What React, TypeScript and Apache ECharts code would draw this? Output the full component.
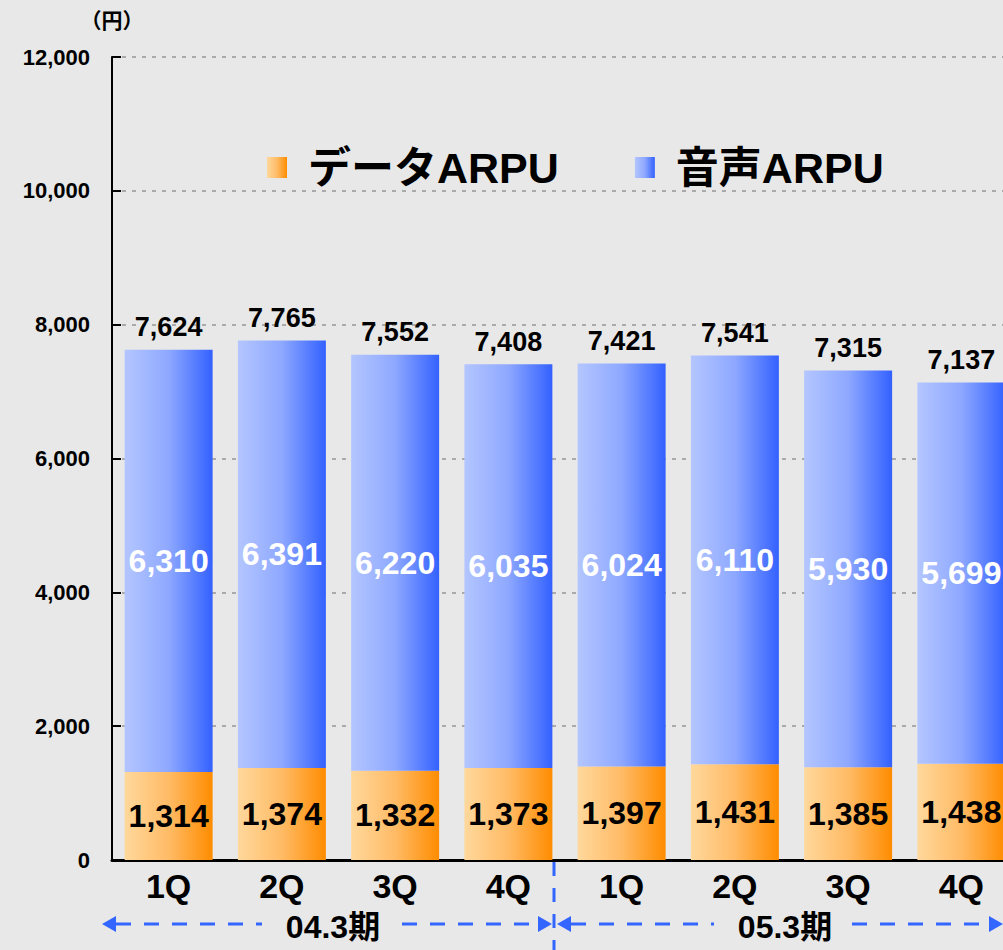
import React, { useEffect, useRef } from "react";
import * as echarts from "echarts";

const categories = ["1Q", "2Q", "3Q", "4Q", "1Q", "2Q", "3Q", "4Q"];
const dataArpu = [1314, 1374, 1332, 1373, 1397, 1431, 1385, 1438];
const voiceArpu = [6310, 6391, 6220, 6035, 6024, 6110, 5930, 5699];
const totals = [7624, 7765, 7552, 7408, 7421, 7541, 7315, 7137];
const periodLabels = ["04.3期", "05.3期"];

const FONT = '"Liberation Sans", "Noto Sans CJK JP", sans-serif';
const fmt = (v: number) => v.toLocaleString("en-US");

const orangeGrad = new echarts.graphic.LinearGradient(0, 0, 1, 0, [
  { offset: 0, color: "#ffd89c" },
  { offset: 0.5, color: "#ffbb66" },
  { offset: 1, color: "#ff8c00" },
]);
const blueGrad = new echarts.graphic.LinearGradient(0, 0, 1, 0, [
  { offset: 0, color: "#b4c6ff" },
  { offset: 0.5, color: "#8ea8ff" },
  { offset: 1, color: "#3361ff" },
]);

const BLUE = "#3366ff";

function dashedH(x1: number, x2: number, y: number) {
  return {
    type: "line",
    shape: { x1, y1: y, x2, y2: y },
    style: { stroke: BLUE, lineWidth: 3, lineDash: [15, 13] },
    silent: true,
  };
}
function arrowHead(tipX: number, y: number, dir: number) {
  return {
    type: "polygon",
    shape: {
      points: [
        [tipX, y],
        [tipX - dir * 14, y - 8],
        [tipX - dir * 14, y + 8],
      ],
    },
    style: { fill: BLUE },
    silent: true,
  };
}

export default function App() {
  const ref = useRef<HTMLDivElement>(null);
  useEffect(() => {
    if (!ref.current) return;
    const chart = echarts.init(ref.current, undefined, { renderer: "svg" });
    const yArrow = 924;
    const periodText = (text: string, x: number) => ({
      type: "text",
      x,
      y: yArrow + 3,
      style: {
        text,
        fontSize: 32,
        fontWeight: "bold",
        fill: "#000",
        align: "center",
        verticalAlign: "middle",
        fontFamily: FONT,
      },
    });
    chart.setOption({
      animation: false,
      backgroundColor: "transparent",
      textStyle: { fontFamily: FONT },
      grid: { left: 112, top: 57, bottom: 90, width: 906 },
      legend: {
        data: ["データARPU", "音声ARPU"],
        left: 262,
        top: 141,
        itemWidth: 20,
        itemHeight: 21,
        itemGap: 76,
        icon: "rect",
        textStyle: {
          fontSize: 43,
          fontWeight: "bold",
          color: "#000",
          fontFamily: FONT,
          padding: [0, 0, 0, 16],
        },
      },
      xAxis: {
        type: "category",
        data: categories,
        axisLine: { lineStyle: { color: "#000", width: 3 } },
        axisTick: { show: false },
        axisLabel: { fontSize: 34, fontWeight: "bold", color: "#000", margin: 9 },
      },
      yAxis: {
        type: "value",
        min: 0,
        max: 12000,
        interval: 2000,
        name: "（円）",
        nameLocation: "end",
        nameGap: 26,
        nameTextStyle: { fontSize: 21, fontWeight: "bold", color: "#000", align: "center" },
        axisLine: { show: true, lineStyle: { color: "#000", width: 2 } },
        axisTick: { show: true, inside: true, length: 9, lineStyle: { color: "#000", width: 2 } },
        axisLabel: {
          fontSize: 22,
          fontWeight: "bold",
          color: "#000",
          margin: 22,
          formatter: (v: number) => fmt(v),
        },
        splitLine: { lineStyle: { color: "#aaaaaa", width: 2, type: [4, 6] } },
      },
      series: [
        {
          name: "データARPU",
          type: "bar",
          stack: "arpu",
          barWidth: 88,
          data: dataArpu,
          itemStyle: { color: orangeGrad },
          label: {
            show: true,
            position: "inside",
            fontSize: 32,
            fontWeight: "bold",
            color: "#000",
            formatter: (p: any) => fmt(p.value),
          },
        },
        {
          name: "音声ARPU",
          type: "bar",
          stack: "arpu",
          barWidth: 88,
          data: voiceArpu,
          itemStyle: { color: blueGrad },
          label: {
            show: true,
            position: "inside",
            fontSize: 32,
            fontWeight: "bold",
            color: "#fff",
            formatter: (p: any) => fmt(p.value),
          },
        },
        {
          name: "合計",
          type: "bar",
          barWidth: 88,
          barGap: "-100%",
          data: totals,
          itemStyle: { color: "transparent" },
          silent: true,
          z: 0,
          label: {
            show: true,
            position: "top",
            distance: 9,
            fontSize: 27,
            fontWeight: "bold",
            color: "#000",
            formatter: (p: any) => fmt(p.value),
          },
        },
      ],
      graphic: [
        {
          type: "line",
          shape: { x1: 554, y1: 862, x2: 554, y2: 950 },
          style: { stroke: BLUE, lineWidth: 3, lineDash: [14, 12] },
          silent: true,
        },
        arrowHead(102, yArrow, -1),
        dashedH(116, 262, yArrow),
        dashedH(402, 540, yArrow),
        arrowHead(552, yArrow, 1),
        arrowHead(557, yArrow, -1),
        dashedH(571, 714, yArrow),
        dashedH(852, 990, yArrow),
        arrowHead(1003, yArrow, 1),
        periodText(periodLabels[0], 333),
        periodText(periodLabels[1], 785),
      ],
    });
    return () => chart.dispose();
  }, []);
  return (
    <div
      style={{
        position: "fixed",
        left: 0,
        top: 0,
        width: 1003,
        height: 950,
        overflow: "hidden",
        background: "#e8e8e8",
      }}
    >
      <div ref={ref} style={{ width: 1025, height: 950 }} />
    </div>
  );
}
